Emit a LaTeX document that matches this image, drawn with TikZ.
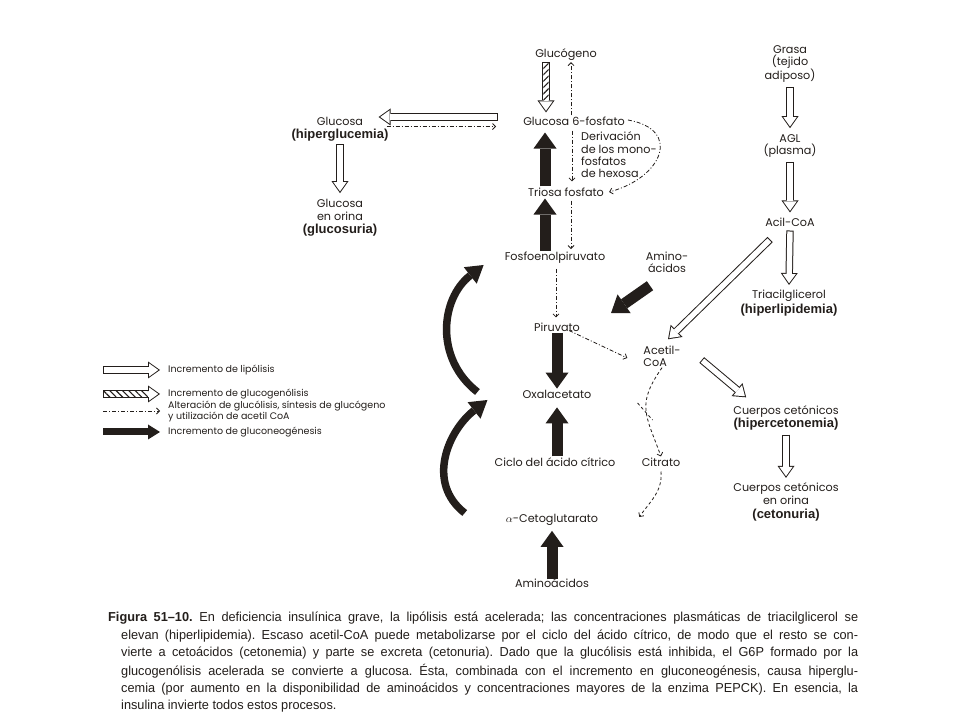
\documentclass[tikz,border=0pt]{standalone}
\usepackage{fontspec}
\setmainfont{Poppins}
\newfontfamily\hlfont{Liberation Sans}
\newfontfamily\capfont[FakeStretch=0.98]{Liberation Sans}
\usetikzlibrary{arrows.meta,patterns.meta}
\definecolor{ink}{HTML}{231E1B}
\newcommand{\hl}[1]{{\hlfont\bfseries\fontsize{13}{14}\selectfont #1}}
\frenchspacing

\tikzset{
	lab/.style={inner sep=1pt, align=center, text=ink, font=\fontsize{11.2}{12.4}\selectfont},
	legtext/.style={inner sep=0pt, anchor=west, align=left, text=ink, font=\fontsize{9.5}{11}\selectfont},
	capline/.style={inner sep=0pt, anchor=west, text=ink, font=\capfont\fontsize{13}{15}\selectfont},
	hollow/.style={draw=ink, line width=7.4pt, -{Triangle[length=12pt,width=17pt,line width=0pt]},
		postaction={draw=white, line width=5.4pt, -{Triangle[length=9.3pt,width=13.3pt,line width=0pt]}, shorten >=1.7pt, shorten <=1pt}},
	fatblack/.style={draw=ink, line width=11pt, -{Triangle[length=16pt,width=23pt,line width=0pt]}},
	legblack/.style={draw=ink, line width=7pt, -{Triangle[length=12pt,width=15pt,line width=0pt]}},
	bigarc/.style={draw=ink, line width=7.5pt, -{Triangle[length=17pt,width=21pt,line width=0pt]}},
	dashdot/.style={draw=ink, line width=0.8pt, dash pattern=on 4pt off 2pt on 1pt off 2pt, -{Straight Barb[length=3pt,width=6pt]}},
	dashcurve/.style={draw=ink, line width=0.8pt, dash pattern=on 3pt off 2.5pt, -{Straight Barb[length=3pt,width=6pt]}},
	hatch/.style={pattern={Lines[angle=#1,distance=4.5pt,line width=1.1pt]}, pattern color=ink}
}

\begin{document}
\begin{tikzpicture}[x=1pt,y=1pt]
	\fill[white] (0,0) rectangle (960,720);
	\useasboundingbox (0,0) rectangle (960,720);

	% central column
	\node[lab] (glyc) at (566,665) {Glucógeno};
	\node[lab] (g6p) at (574,599) {Glucosa 6-fosfato};
	\node[lab] (trio) at (566,528) {Triosa fosfato};
	\node[lab] (pep) at (555,462) {Fosfoenolpiruvato};
	\node[lab] (pir) at (557,393) {Piruvato};
	\node[lab] (oxa) at (557,326) {Oxalacetato};
	\node[lab] (cic) at (555,258) {Ciclo del ácido cítrico};
	\node[lab] (akg) at (552,200) {$\alpha$-Cetoglutarato};
	\node[lab] (aa) at (552,137) {Aminoácidos};
	\node[lab, anchor=west, align=left] (deriv) at (580,565) {Derivación\\de los mono-\\fosfatos\\de hexosa};

	\node[lab] (glu) at (340,591) {Glucosa\\[1pt]\hl{(hiperglucemia)}};
	\node[lab] (gluor) at (340,502) {Glucosa\\en orina\\[1.5pt]\hl{(glucosuria)}};

	\node[lab] (grasa) at (790,656) {Grasa\\(tejido\\adiposo)};
	\node[lab] (agl) at (790,574) {AGL\\(plasma)};
	\node[lab] (acil) at (790,498) {Acil-CoA};
	\node[lab] (tag) at (789,417) {Triacilglicerol\\[1pt]\hl{(hiperlipidemia)}};
	\node[lab] (aa2) at (667,458) {Amino-\\ácidos};
	\node[lab, align=left] (acet) at (662,364) {Acetil-\\CoA};
	\node[lab] (cit) at (661,258) {Citrato};
	\node[lab] (cc1) at (786,302) {Cuerpos cetónicos\\[1pt]\hl{(hipercetonemia)}};
	\node[lab] (cc2) at (786,218) {Cuerpos cetónicos\\en orina\\[1.5pt]\hl{(cetonuria)}};

	% glucogenolysis
	\coordinate (hs) at ([xshift=-20pt]glyc.south);
	\coordinate (he) at ([shift={(-28,3)}]g6p.north);
	\draw[hollow] (hs) -- (he);
	\fill[hatch=45] ([shift={(-2.7,-1)}]hs) rectangle ([shift={(2.7,12)}]he);
	\draw[dashdot] ([xshift=-3pt]g6p.north) -- ([xshift=5pt]glyc.south);

	\coordinate (gw) at ([yshift=4pt]g6p.west);
	\draw[hollow] ([xshift=-24pt]gw) -- ([xshift=-11pt]glu.east |- gw);
	\draw[dashdot] ([xshift=-3pt]glu.east |- g6p.south) -- ([xshift=-26pt]g6p.south west);
	\draw[hollow] ([yshift=-2pt]glu.south) -- ([yshift=5pt]gluor.north);

	\draw[dashdot] ([shift={(-2,-4)}]g6p.south) -- ([shift={(6,5)}]trio.north);
	\draw[dashdot] ([shift={(2,1)}]g6p.east) to[out=-10,in=15,looseness=1.9] ([shift={(4,0)}]trio.east);
	\draw[dashdot] ([shift={(5,-3)}]trio.south) -- ([shift={(16,2)}]pep.north);
	\draw[dashdot] ([shift={(1,-4)}]pep.south) -- ([shift={(-1,4)}]pir.north);
	\draw[dashdot] ([shift={(-12,2)}]pir.south east) -- ([shift={(-15,-2)}]acet.west);

	% gluconeogenesis
	\draw[fatblack] ([xshift=-21pt]trio.north) -- ([shift={(-29,-6)}]g6p.south);
	\draw[fatblack] ([xshift=-10pt]pep.north) -- ([shift={(-21,-1)}]trio.south);
	\draw[fatblack] (pir.south) -- (oxa.north);
	\draw[fatblack] ([xshift=2pt]cic.north) -- ([yshift=-8pt]oxa.south);
	\draw[fatblack] ([yshift=-2pt]aa.north) -- ([yshift=-4pt]akg.south);
	\draw[fatblack] ([shift={(-17,-12)}]aa2.south) -- ([shift={(30,14)}]pir.east);
	\draw[bigarc] ([shift={(-44,2)}]oxa.west) to[out=142,in=-142,looseness=1.1] ([shift={(-20,-7)}]pep.west);
	\draw[bigarc] ([shift={(-40,7)}]akg.west) to[out=142,in=-142,looseness=1.1] ([shift={(-34,-6)}]oxa.west);

	% lipolysis
	\draw[hollow] ([yshift=-3pt]grasa.south) -- ([yshift=5pt]agl.north);
	\draw[hollow] ([yshift=-3pt]agl.south) -- ([yshift=4pt]acil.north);
	\draw[hollow] ([yshift=-3pt]acil.south) -- ([yshift=4pt]tag.north);
	\draw[hollow] ([shift={(6,-12)}]acil.south west) -- ([shift={(6,5)}]acet.north);
	\draw[hollow] ([shift={(20,-4)}]acet.east) -- ([shift={(14,7)}]cc1.north west);
	\draw[hollow] ([yshift=-3pt]cc1.south) -- ([yshift=4pt]cc2.north);

	\coordinate (oxin) at ([shift={(45,-9)}]oxa.east);
	\coordinate (join) at ([shift={(60,-26)}]oxa.east);
	\draw[dashcurve] (acet.south) to[out=-125,in=110,looseness=1.3] (cit.north);
	\draw[dashcurve, -] (oxin) -- (join);
	\draw[dashcurve] ([yshift=-4pt]cit.south) to[out=-85,in=55] ([shift={(40,3)}]akg.east);

	% legend
	\node[legtext] (l1) at (168,350) {Incremento de lipólisis};
	\node[legtext] (l2) at (168,326) {Incremento de glucogenólisis};
	\node[legtext] (l3) at (168,309) {Alteración de glucólisis, síntesis de glucógeno\\y utilización de acetil CoA};
	\node[legtext] (l4) at (168,288) {Incremento de gluconeogénesis};
	\draw[hollow] ([xshift=-65pt]l1.west) -- ([xshift=-8pt]l1.west);
	\draw[hollow] ([xshift=-65pt]l2.west) -- ([xshift=-8pt]l2.west);
	\fill[hatch=135] ([shift={(-64,-2.7)}]l2.west) rectangle ([shift={(-20,2.7)}]l2.west);
	\draw[dashdot] ([xshift=-65pt]l3.west) -- ([xshift=-8pt]l3.west);
	\draw[legblack] ([xshift=-65pt]l4.west) -- ([xshift=-8pt]l4.west);

	% caption
	\node[capline] (c1) at (108,102) {\makebox[750pt][s]{\textbf{Figura 51–10.} En deficiencia insulínica grave, la lipólisis está acelerada; las concentraciones plasmáticas de triacilglicerol se}};
	\node[capline] (c2) at (121,84) {\makebox[737pt][s]{elevan (hiperlipidemia). Escaso acetil-CoA puede metabolizarse por el ciclo del ácido cítrico, de modo que el resto se con-}};
	\node[capline] (c3) at (121,66.5) {\makebox[737pt][s]{vierte a cetoácidos (cetonemia) y parte se excreta (cetonuria). Dado que la glucólisis está inhibida, el G6P formado por la}};
	\node[capline] (c4) at (121,49) {\makebox[737pt][s]{glucogenólisis acelerada se convierte a glucosa. Ésta, combinada con el incremento en gluconeogénesis, causa hiperglu-}};
	\node[capline] (c5) at (121,31) {\makebox[737pt][s]{cemia (por aumento en la disponibilidad de aminoácidos y concentraciones mayores de la enzima PEPCK). En esencia, la}};
	\node[capline] (c6) at (121,14) {insulina invierte todos estos procesos.};
\end{tikzpicture}
\end{document}
